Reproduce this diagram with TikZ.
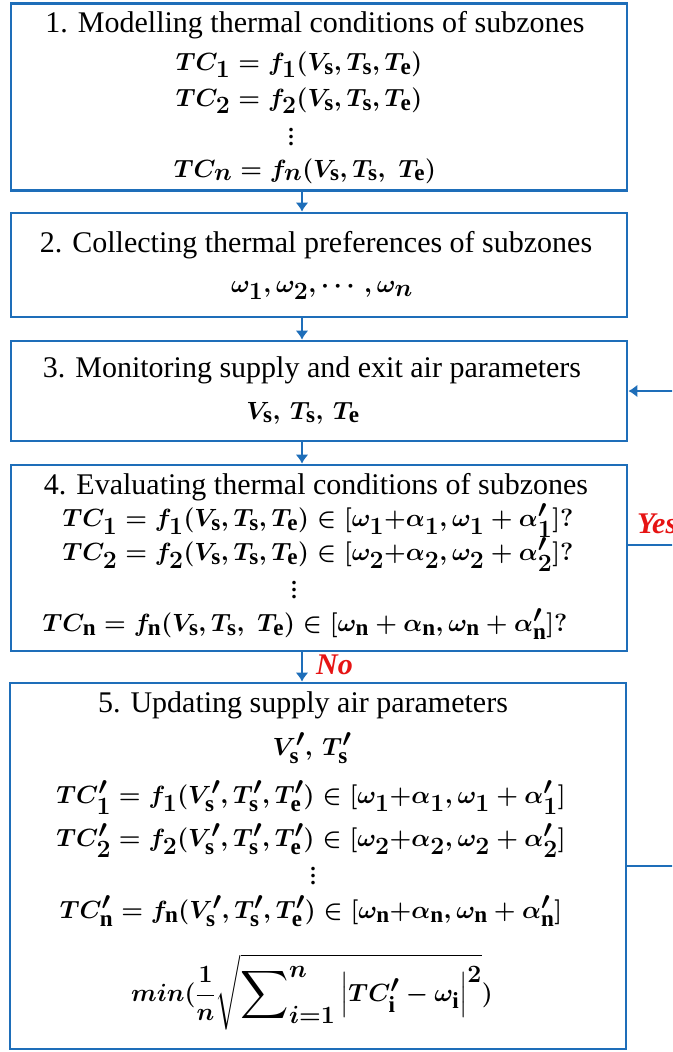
\documentclass[tikz,border=0pt]{standalone}
\usepackage{amsmath}
\usepackage{fontspec}
\setmainfont{Liberation Serif}
\usetikzlibrary{arrows.meta}
\definecolor{flowblue}{RGB}{30,110,185}
\definecolor{ansred}{RGB}{230,20,20}
\newcommand\stackdots{\vbox{\baselineskip=7pt\lineskiplimit=0pt\hbox{.}\hbox{.}\hbox{.}}}
\newcommand\bigsigma{\mathop{\vcenter{\hbox{\scalebox{1.35}{$\displaystyle\sum$}}}}\nolimits}

\begin{document}
\begin{tikzpicture}[x=1pt,y=-1pt,
		stepbox/.style={draw=flowblue,line width=2.8pt,minimum width=616pt,inner sep=0pt},
		title/.style={font=\fontsize{30}{36}\selectfont,inner sep=0pt},
		eqn/.style={font=\fontsize{33}{38}\selectfont\boldmath,inner sep=0pt},
		dots/.style={font=\fontsize{22}{26}\selectfont\bfseries,inner sep=0pt},
		flow/.style={draw=flowblue,line width=2.4pt,-{Latex[length=9pt,width=13pt]}},
		link/.style={draw=flowblue,line width=2.4pt},
		answer/.style={font=\fontsize{30}{36}\selectfont\bfseries\itshape,text=ansred,inner sep=0pt}]
		\useasboundingbox (0,0) rectangle (672,1052);
		\clip (0,0) rectangle (672,1052);
		% the five steps
		\node[stepbox,minimum height=187pt] (box1) at (319,97) {};
		\node[stepbox,minimum height=104pt] (box2) at (319,265) {};
		\node[stepbox,minimum height=100pt] (box3) at (319,391) {};
		\node[stepbox,minimum height=186pt] (box4) at (319,558) {};
		\node[stepbox,minimum height=366pt] (box5) at (318,866) {};
		% step 1
		\node[title] (t1) at (315,25) {1. Modelling thermal conditions of subzones};
		\node[eqn] (m11) at (299,65) {$TC_1 = f_1(V_{\mathrm{s}}, T_{\mathrm{s}}, T_{\mathrm{e}})$};
		\node[eqn] (m12) at (299,101) {$TC_2 = f_2(V_{\mathrm{s}}, T_{\mathrm{s}}, T_{\mathrm{e}})$};
		\node[dots] (d1) at (291,137) {\stackdots};
		\node[eqn] (m1n) at (305,171) {$TC_n = f_n(V_{\mathrm{s}}, T_{\mathrm{s}},\ T_{\mathrm{e}})$};
		% step 2
		\node[title] (t2) at (316,245) {2. Collecting thermal preferences of subzones};
		\node[eqn] (m2) at (322,290) {$\omega_1, \omega_2, \cdots, \omega_n$};
		% step 3
		\node[title] (t3) at (312,370) {3. Monitoring supply and exit air parameters};
		\node[eqn] (m3) at (303,413) {$V_{\mathrm{s}},\, T_{\mathrm{s}},\, T_{\mathrm{e}}$};
		% step 4
		\node[title] (t4) at (316,487) {4. Evaluating thermal conditions of subzones};
		\node[eqn] (m41) at (318,521) {$TC_1 = f_1(V_{\mathrm{s}}, T_{\mathrm{s}}, T_{\mathrm{e}}) \in [\omega_1{+}\alpha_1, \omega_1 + \alpha'_1]?$};
		\node[eqn] (m42) at (318,555) {$TC_2 = f_2(V_{\mathrm{s}}, T_{\mathrm{s}}, T_{\mathrm{e}}) \in [\omega_2{+}\alpha_2, \omega_2 + \alpha'_2]?$};
		\node[dots] (d4) at (294,590) {\stackdots};
		\node[eqn] (m4n) at (305,624) {$TC_{\mathrm{n}} = f_{\mathrm{n}}(V_{\mathrm{s}}, T_{\mathrm{s}},\ T_{\mathrm{e}}) \in [\omega_{\mathrm{n}} + \alpha_{\mathrm{n}}, \omega_{\mathrm{n}} + \alpha'_{\mathrm{n}}]?$};
		% step 5
		\node[title] (t5) at (303,705) {5. Updating supply air parameters};
		\node[eqn] (m5) at (312,748) {$V'_{\mathrm{s}},\, T'_{\mathrm{s}}$};
		\node[eqn] (m51) at (311,798) {$TC'_1 = f_1(V'_{\mathrm{s}}, T'_{\mathrm{s}}, T'_{\mathrm{e}}) \in [\omega_1{+}\alpha_1, \omega_1 + \alpha'_1]$};
		\node[eqn] (m52) at (311,841) {$TC'_2 = f_2(V'_{\mathrm{s}}, T'_{\mathrm{s}}, T'_{\mathrm{e}}) \in [\omega_2{+}\alpha_2, \omega_2 + \alpha'_2]$};
		\node[dots] (d5) at (313,876) {\stackdots};
		\node[eqn] (m5n) at (311,911) {$TC'_{\mathrm{n}} = f_{\mathrm{n}}(V'_{\mathrm{s}}, T'_{\mathrm{s}}, T'_{\mathrm{e}}) \in [\omega_{\mathrm{n}}{+}\alpha_{\mathrm{n}}, \omega_{\mathrm{n}} + \alpha'_{\mathrm{n}}]$};
		\node[eqn] (mmin) at (312,992) {$\displaystyle min(\frac{1}{n}\sqrt{\bigsigma_{i=1}^{n}\left|TC'_{\mathrm{i}}-\omega_{\mathrm{i}}\right|^2})$};
		% arrows
		\coordinate (ax) at (302,0);
		\coordinate (far) at (700,0);
		\draw[flow] (box1.south -| ax) -- (box2.north -| ax);
		\draw[flow] (box2.south -| ax) -- (box3.north -| ax);
		\draw[flow] (box3.south -| ax) -- (box4.north -| ax);
		\draw[flow] (box4.south -| ax) -- (box5.north -| ax);
		\node[answer,anchor=west] (no) at (316,665) {No};
		\draw[link] ([yshift=13pt]box4.east) -- ([yshift=13pt]box4.east -| far);
		\node[answer,anchor=west] (yes) at (637,524) {Yes};
		\draw[flow] (box5.east) -- (box5.east -| far) |- (box3.east);
\end{tikzpicture}
\end{document}
